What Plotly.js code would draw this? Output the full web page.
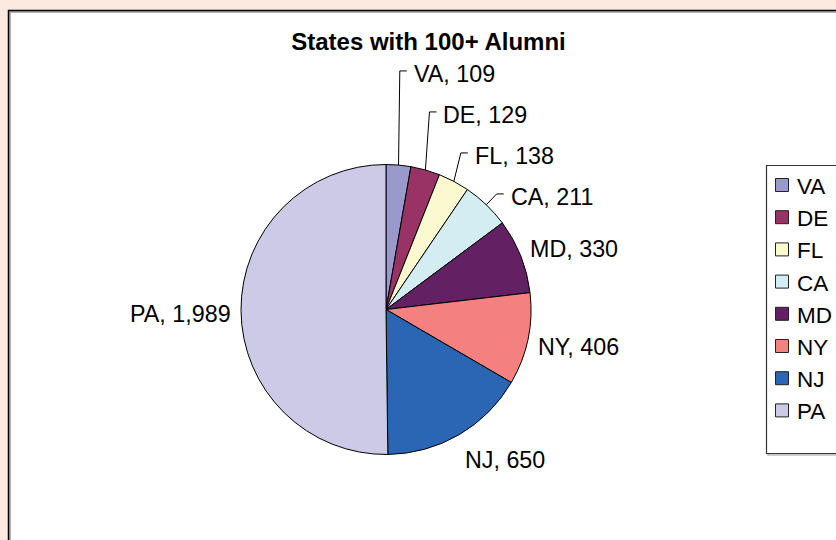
<!DOCTYPE html>
<html><head><meta charset="utf-8">
<script src="https://cdn.plot.ly/plotly-3.0.1.min.js"></script>
<style>html,body{margin:0;padding:0;background:#fce9df;} #chart{width:836px;height:540px;}</style>
</head><body><div id="chart"></div>
<script>
// ---- data ----
const states = ['VA', 'DE', 'FL', 'CA', 'MD', 'NY', 'NJ', 'PA'];
const alumni = [109, 129, 138, 211, 330, 406, 650, 1989];
const sliceColors = ['#9999cc', '#993366', '#fbf9d0', '#d3edf3', '#632062', '#f58080', '#2a66b4', '#cccae6'];
const chartTitle = 'States with 100+ Alumni';

// ---- geometry (pixels) ----
const W = 836, H = 540;
const CX = 386, CY = 309.5, R = 145;
const FONT = 'Liberation Sans, Arial, sans-serif';
const LABEL_SIZE = 23.3;
const px2x = p => p / W;
const px2y = p => 1 - p / H;

const total = alumni.reduce((a, b) => a + b, 0);
let cum = 0;
const mids = alumni.map(v => { const m = (cum + v / 2) / total * 2 * Math.PI; cum += v; return m; });
const labelText = states.map((s, i) => s + ', ' + alumni[i].toLocaleString('en-US'));

const annotations = [];
const shapes = [];
// white panel
shapes.push({type: 'rect', xref: 'paper', yref: 'paper', x0: px2x(10), x1: px2x(900), y0: px2y(700), y1: px2y(12),
  line: {color: '#9a9a9a', width: 1.5}, fillcolor: '#ffffff', layer: 'below'});
shapes.push({type: 'rect', xref: 'paper', yref: 'paper', x0: px2x(8.5), x1: px2x(900), y0: px2y(700), y1: px2y(10.5),
  line: {color: '#000000', width: 1.5}, fillcolor: 'rgba(0,0,0,0)', layer: 'below'});

// small slices get stacked labels with leader lines
const STEP = 41;
const small = [];
states.forEach((s, i) => {
  const a = mids[i], sn = Math.sin(a), cs = Math.cos(a);
  if (alumni[i] / total < 0.06) {
    const RL = R + 15;
    small.push({i, px: CX + RL * sn, py: CY - RL * cs, sn, cs});
  } else {
    const RL = R + 8;
    const px = CX + RL * sn, py = CY - RL * cs;
    const yc = py - cs * 18;
    annotations.push({xref: 'paper', yref: 'paper', x: px2x(px), y: px2y(yc + 3),
      xanchor: sn >= 0 ? 'left' : 'right', yanchor: 'middle', showarrow: false,
      text: labelText[i], font: {family: FONT, size: LABEL_SIZE, color: '#000'}});
  }
});
let prevY = Infinity;
for (let k = small.length - 1; k >= 0; k--) {
  const o = small[k];
  const y = Math.min(o.py, prevY - STEP);
  prevY = y;
  const ex = CX + R * o.sn, ey = CY - R * o.cs;
  shapes.push({type: 'path', xref: 'paper', yref: 'paper',
    path: 'M' + px2x(ex) + ',' + px2y(ey) + ' L' + px2x(o.px) + ',' + px2y(y) + ' L' + px2x(o.px + 7) + ',' + px2y(y),
    line: {color: '#000', width: 1}});
  annotations.push({xref: 'paper', yref: 'paper', x: px2x(o.px + 12), y: px2y(y + 3),
    xanchor: 'left', yanchor: 'middle', showarrow: false,
    text: labelText[o.i], font: {family: FONT, size: LABEL_SIZE, color: '#000'}});
}

// ---- legend box (drawn from the same arrays) ----
const LG_X = 766.5, LG_Y = 165.5, LG_B = 453.5, LG_FIRST = 185, LG_STEP = 32.2;
shapes.push({type: 'rect', xref: 'paper', yref: 'paper', x0: px2x(LG_X + 1.5), x1: px2x(900), y0: px2y(LG_B + 1.5), y1: px2y(LG_Y + 1.5),
  line: {color: '#9a9a9a', width: 1.2}, fillcolor: '#ffffff'});
shapes.push({type: 'rect', xref: 'paper', yref: 'paper', x0: px2x(LG_X), x1: px2x(900), y0: px2y(LG_B), y1: px2y(LG_Y),
  line: {color: '#333333', width: 1.2}, fillcolor: '#ffffff'});
states.forEach((s, i) => {
  const yc = LG_FIRST + i * LG_STEP;
  shapes.push({type: 'rect', xref: 'paper', yref: 'paper', x0: px2x(775.5), x1: px2x(788.5), y0: px2y(yc + 6.5), y1: px2y(yc - 6.5),
    line: {color: '#222', width: 1}, fillcolor: sliceColors[i]});
  annotations.push({xref: 'paper', yref: 'paper', x: px2x(795), y: px2y(yc + 1.5), xanchor: 'left', yanchor: 'middle',
    showarrow: false, text: s, font: {family: FONT, size: 22.5, color: '#000'}});
});

const trace = {
  type: 'pie', labels: states, values: alumni, sort: false, direction: 'clockwise', rotation: 0,
  marker: {colors: sliceColors, line: {color: '#000', width: 1}},
  textinfo: 'none', hoverinfo: 'label+value', showlegend: false,
  domain: {x: [px2x(CX - R), px2x(CX + R)], y: [px2y(CY + R), px2y(CY - R)]}
};

const layout = {
  width: W, height: H, margin: {l: 0, r: 0, t: 0, b: 0},
  paper_bgcolor: '#fce9df',
  title: {text: '<b>' + chartTitle + '</b>', x: px2x(428.5), xanchor: 'center', y: px2y(42), yanchor: 'middle',
    font: {family: FONT, size: 24, color: '#000'}},
  showlegend: false,
  shapes, annotations
};
Plotly.newPlot('chart', [trace], layout, {staticPlot: true});
</script></body></html>
